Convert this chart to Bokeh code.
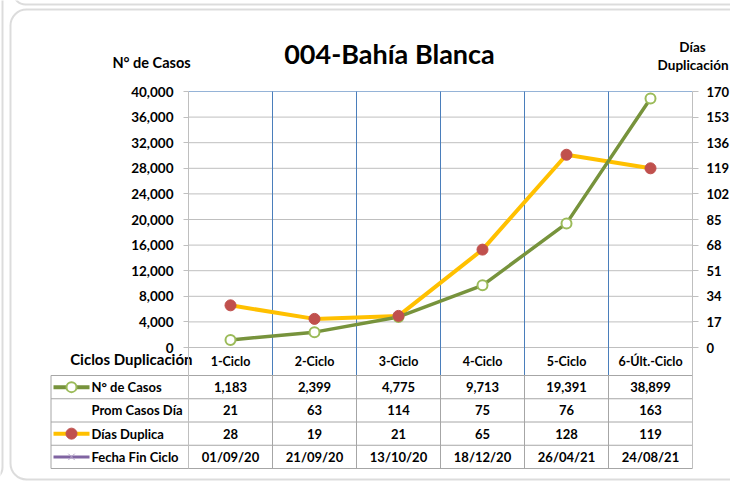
import numpy as np
from bokeh.plotting import figure
from bokeh.models import Range1d, LinearAxis, FixedTicker, NumeralTickFormatter, BoxAnnotation
from bokeh.embed import file_html
from bokeh.resources import INLINE
from bokeh.core.properties import value

# ---------------- data ----------------
cycles = ["1-Ciclo", "2-Ciclo", "3-Ciclo", "4-Ciclo", "5-Ciclo", "6-Últ.-Ciclo"]
casos = [1183, 2399, 4775, 9713, 19391, 38899]
prom_casos_dia = [21, 63, 114, 75, 76, 163]
dias_duplica = [28, 19, 21, 65, 128, 119]
fecha_fin = ["01/09/20", "21/09/20", "13/10/20", "18/12/20", "26/04/21", "24/08/21"]
left_ticks = list(range(0, 40001, 4000))
right_ticks = list(range(0, 171, 17))
row_labels = ["N° de Casos", "Prom Casos Día", "Días Duplica", "Fecha Fin Ciclo"]
title = "004-Bahía Blanca"
left_title = "N° de Casos"
right_title = ["Días", "Duplicación"]
header_title = "Ciclos Duplicación"

# ---------------- style ----------------
FONT = "Lato"
GREEN = "#77933C"
GREEN_M = "#9BBB59"
YELLOW = "#FFC000"
RED = "#C0504D"
PURPLE = "#8064A2"
GRID = "#bfbfbf"
BLUE = "#4a7ebb"
TOPLINE = "#95b3d7"
TGRID = "#a6a6a6"
PANEL = "#8c8c8c"

# ---------------- geometry (canvas pixels) ----------------
W, H = 730, 482
X0_PX, COLW = 188, 84          # left edge of category area, column width
Y0_PX, PLOT_PX = 347, 256      # zero line, height of plotting band
HDR_PX, ROW_PX = 28, 23.25     # header band, table row height
TBL_LEFT_PX = 50
LEFT_MAX, RIGHT_MAX = 40000, 170
DPX = LEFT_MAX / PLOT_PX
RPX = RIGHT_MAX / PLOT_PX

def dx(px):
    return (px - X0_PX) / COLW

def dy(py, per=DPX):
    return (Y0_PX - py) * per

n = len(cycles)
xpos = np.arange(n) + 0.5
nrows = len(row_labels)

p = figure(width=W, height=H,
           x_range=Range1d(dx(0), dx(W)),
           y_range=Range1d(dy(H), dy(0)),
           output_backend="svg", toolbar_location=None, x_axis_location=None,
           min_border_left=0, min_border_right=0, min_border_top=0, min_border_bottom=0)
p.outline_line_color = None
p.background_fill_color = "white"
p.border_fill_color = "white"
p.xgrid.visible = False
p.ygrid.visible = False

tbl_top = Y0_PX + HDR_PX
tbl_bot = tbl_top + nrows * ROW_PX

# panel borders (chart object frame and neighbouring frames)
for l, r, t, b, rad in ((10, 780, 9, 479, 16), (13, 780, -60, 4, 12), (-60, 2, -60, 479, 12)):
    p.add_layout(BoxAnnotation(left=dx(l), right=dx(r), top=dy(t), bottom=dy(b),
                               fill_color=None, line_color=PANEL, line_width=2,
                               border_radius=rad, level="underlay"))

# axes
ya = p.yaxis[0]
ya.ticker = FixedTicker(ticks=left_ticks)
ya.formatter = NumeralTickFormatter(format="0,0")
ya.fixed_location = 0
ya.bounds = (dy(tbl_bot), LEFT_MAX)
p.extra_y_ranges = {"dias": Range1d(dy(H, RPX), dy(0, RPX))}
ra = LinearAxis(y_range_name="dias", ticker=FixedTicker(ticks=right_ticks))
ra.fixed_location = n
ra.bounds = (dy(tbl_bot, RPX), RIGHT_MAX)
p.add_layout(ra, "right")
for ax, std, tout, fs in ((ya, 10, 5, "13.5px"), (ra, 8, 6, "13px")):
    ax.major_label_text_font = FONT
    ax.major_label_text_font_style = "bold"
    ax.major_label_text_font_size = fs
    ax.major_label_text_color = "#000000"
    ax.major_label_standoff = std
    ax.major_tick_out = tout
    ax.major_tick_in = 0
    ax.minor_tick_line_color = None
    ax.axis_line_color = GRID
    ax.major_tick_line_color = GRID

# horizontal gridlines
gl = left_ticks[:-1]
p.segment(x0=[0] * len(gl), x1=[n] * len(gl), y0=gl, y1=gl, line_color=GRID, line_width=1)
p.segment(x0=[0], x1=[n], y0=[LEFT_MAX], y1=[LEFT_MAX], line_color=TOPLINE, line_width=1)
# vertical category separators
bx = list(range(1, n))
p.segment(x0=bx, x1=bx, y0=[dy(tbl_top)] * len(bx), y1=[LEFT_MAX] * len(bx),
          line_color=BLUE, line_width=1)

# series
p.line(xpos, dias_duplica, y_range_name="dias", line_color=YELLOW, line_width=4)
p.line(xpos, casos, line_color=GREEN, line_width=3.5)
p.scatter(xpos, casos, size=10, fill_color="white", line_color=GREEN_M, line_width=2)
p.scatter(xpos, dias_duplica, y_range_name="dias", size=11, fill_color=RED, line_color=RED)

TXT = dict(text_font=value(FONT), text_font_style="bold", text_color="#000000",
           text_baseline="middle")

# titles
p.text(x=[dx(389)], y=[dy(53)], text=[title], text_align="center", text_font_size="27px", **TXT)
p.text(x=[dx(151)], y=[dy(62)], text=[left_title], text_align="center", text_font_size="14.5px", **TXT)
p.text(x=[dx(692)], y=[dy(46)], text=[right_title[0]], text_align="center", text_font_size="13.5px", **TXT)
p.text(x=[dx(728)], y=[dy(64)], text=[right_title[1]], text_align="right", text_font_size="13.5px", **TXT)

# header row
p.text(x=xpos, y=[dy(Y0_PX + HDR_PX / 2)] * n, text=cycles, text_align="center",
       text_font_size="12.5px", **TXT)
p.text(x=[dx(192)], y=[dy(358)], text=[header_title], text_align="right",
       text_font_size="15px", **TXT)

# table grid
row_edges = [tbl_top + k * ROW_PX for k in range(nrows + 1)]
tl = dx(TBL_LEFT_PX + 0.5)
p.segment(x0=[tl] * len(row_edges), x1=[n] * len(row_edges),
          y0=[dy(e) for e in row_edges], y1=[dy(e) for e in row_edges],
          line_color=TGRID, line_width=1)
vx = [tl] + list(range(1, n))
p.segment(x0=vx, x1=vx, y0=[dy(tbl_bot)] * len(vx), y1=[dy(tbl_top)] * len(vx),
          line_color=TGRID, line_width=1)

rows_y = [dy(tbl_top + (k + 0.5) * ROW_PX) for k in range(nrows)]
table_vals = [[f"{v:,}" for v in casos], [str(v) for v in prom_casos_dia],
              [str(v) for v in dias_duplica], fecha_fin]
for ry, vals in zip(rows_y, table_vals):
    p.text(x=xpos, y=[ry] * n, text=vals, text_align="center", text_font_size="13px", **TXT)
p.text(x=[dx(TBL_LEFT_PX)] * nrows, y=rows_y, text=row_labels, x_offset=41,
       text_align="left", text_font_size="13px", **TXT)

# legend keys
kx0, kx1, kxm = dx(TBL_LEFT_PX + 3), dx(TBL_LEFT_PX + 39), dx(TBL_LEFT_PX + 21)
p.line([kx0, kx1], [rows_y[0]] * 2, line_color=GREEN, line_width=4)
p.scatter([kxm], [rows_y[0]], size=10, fill_color="white", line_color=GREEN_M, line_width=2)
p.line([kx0, kx1], [rows_y[2]] * 2, line_color=YELLOW, line_width=4)
p.scatter([kxm], [rows_y[2]], size=11, fill_color=RED, line_color=RED)
p.line([kx0, kx1], [rows_y[3]] * 2, line_color=PURPLE, line_width=3)
p.scatter([kxm], [rows_y[3]], marker="x", size=9, line_color="#b3a2c7", line_width=1)

open("out.html", "w").write(file_html(p, INLINE))
